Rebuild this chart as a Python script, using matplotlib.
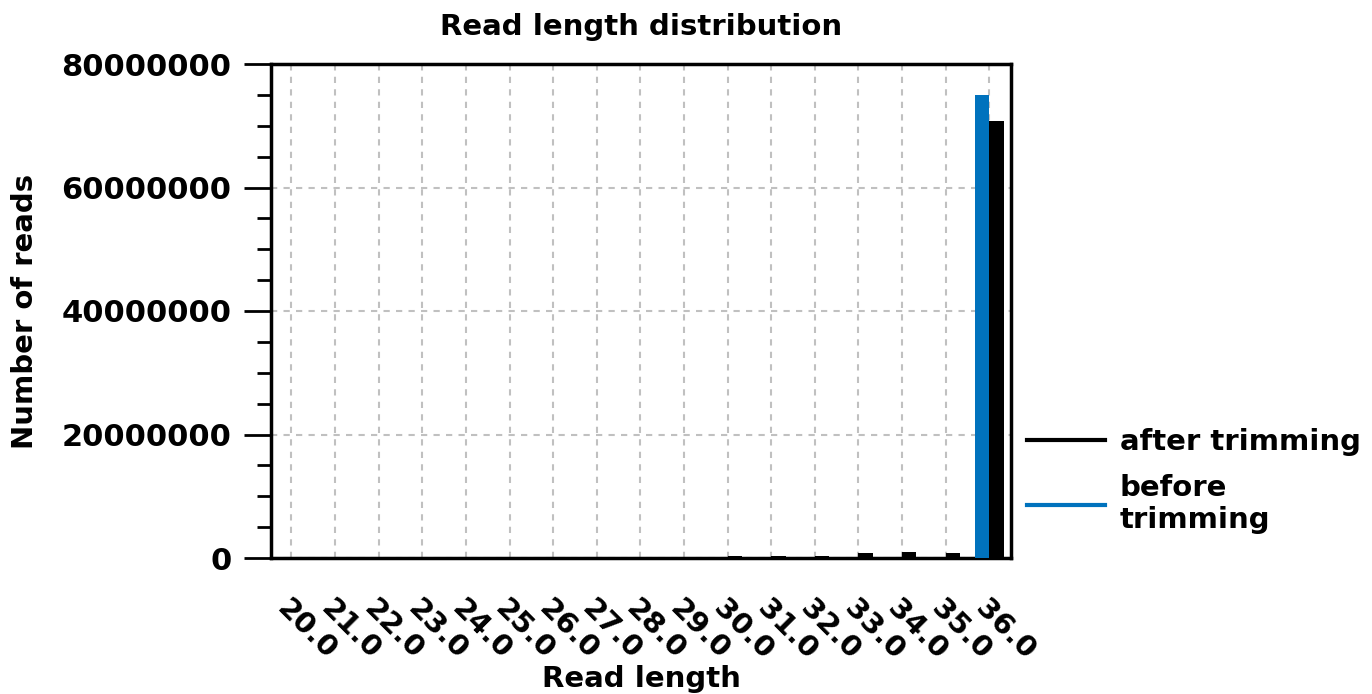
import matplotlib
matplotlib.use("Agg")
import matplotlib.pyplot as plt
import numpy as np
from matplotlib.ticker import MultipleLocator
from matplotlib.lines import Line2D

categories = ["20.0", "21.0", "22.0", "23.0", "24.0", "25.0", "26.0", "27.0", "28.0",
              "29.0", "30.0", "31.0", "32.0", "33.0", "34.0", "35.0", "36.0"]
before_trimming = [0, 0, 0, 0, 0, 0, 0, 0, 0, 0, 0, 0, 0, 0, 0, 0, 75000000]
after_trimming = [0, 0, 0, 0, 0, 0, 0, 0, 0, 0, 400000, 350000, 350000, 760000,
                  1000000, 800000, 70800000]
yticks = [0, 20000000, 40000000, 60000000, 80000000]

plt.rcParams['font.family'] = ['DejaVu Sans']
plt.rcParams['font.weight'] = 'bold'

fig = plt.figure(figsize=(13.72, 6.94), dpi=100)
ax = fig.add_axes([271/1372, 1-558/694, 740/1372, 494/694])

x = np.arange(len(categories))
w = 0.33
ax.bar(x - w/2, before_trimming, width=w, color='#0072bd', zorder=3)
ax.bar(x + w/2, after_trimming, width=w, color='black', zorder=3)

ax.set_xlim(-0.47, len(categories) - 0.5)
ax.set_ylim(0, 80000000)
ax.set_xticks(x)
ax.set_xticklabels(categories, rotation=-45, ha='left', va='top',
                   rotation_mode='anchor', fontsize=21, fontweight='bold')
for lbl in ax.get_xticklabels():
    lbl.set_x(lbl.get_position()[0])
ax.set_yticks(yticks)
ax.set_yticklabels([str(v) for v in yticks], fontsize=22, fontweight='bold')
ax.yaxis.set_minor_locator(MultipleLocator(5000000))
ax.tick_params(axis='y', which='major', direction='out', length=19.5, width=2, pad=9)
ax.tick_params(axis='y', which='minor', direction='out', length=10, width=2)
ax.tick_params(axis='x', which='major', length=0, pad=26)

ax.grid(True, which='major', linestyle=(0, (3, 3)), color='#c0c0c0', linewidth=1.5, zorder=0)
for s in ax.spines.values():
    s.set_linewidth(2.5)

ax.set_title("Read length distribution", fontsize=21, fontweight='bold', pad=21)
ax.set_xlabel("Read length", fontsize=21, fontweight='bold', labelpad=0)
ax.set_ylabel("Number of reads", fontsize=21, fontweight='bold', labelpad=16)

handles = [Line2D([], [], color='black', linewidth=3),
           Line2D([], [], color='#0072bd', linewidth=3)]
fig.legend(handles, ["after trimming", "before\ntrimming"], loc='upper left',
           bbox_to_anchor=(1001/1372, 1-402/694), frameon=False,
           prop={'size': 21, 'weight': 'bold'}, handlelength=2.65, handletextpad=0.52,
           labelspacing=0.6, borderpad=0.4)

fig.savefig("out.png", dpi=100)
